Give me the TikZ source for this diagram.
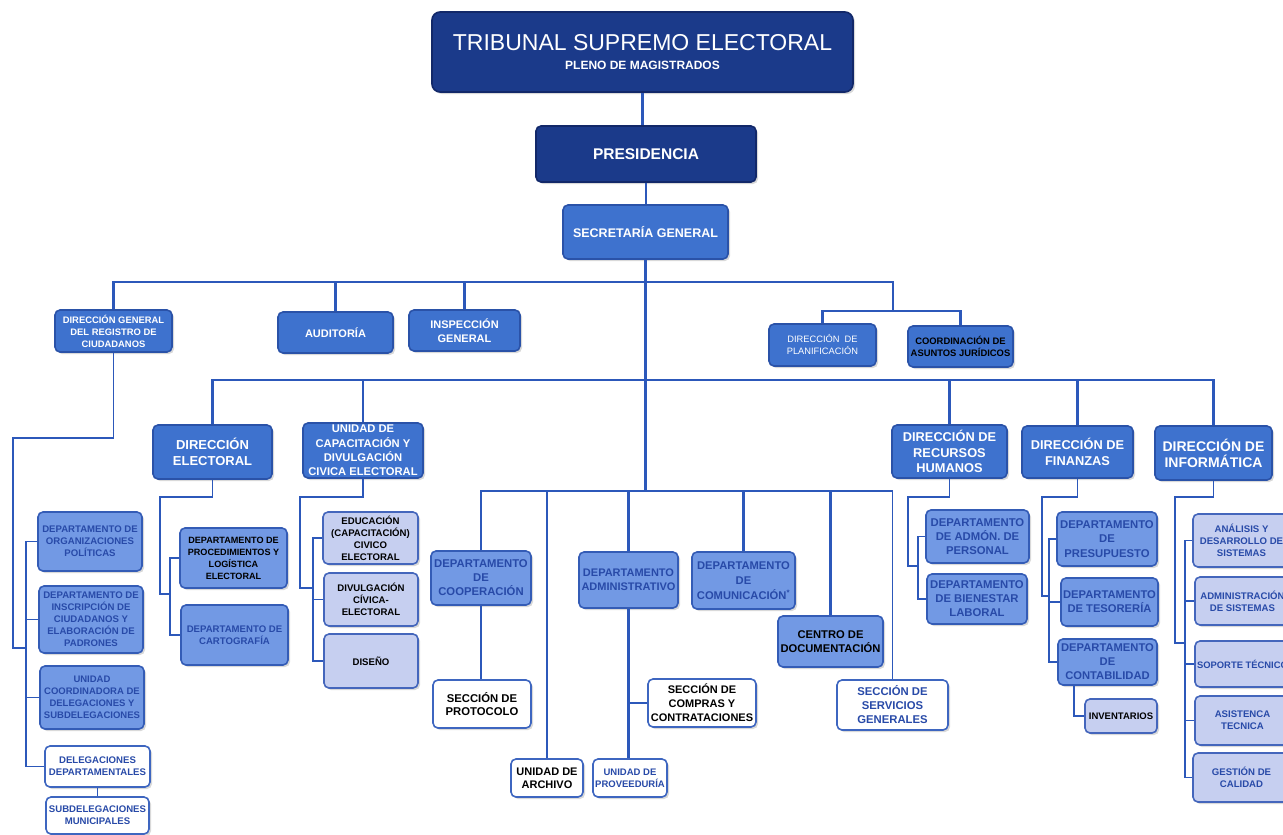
\documentclass[tikz,border=0pt]{standalone}
\usepackage{fontspec}
\setmainfont{Liberation Sans}
\usetikzlibrary{shadows}
\definecolor{navy}{RGB}{27,58,138}
\definecolor{navyd}{RGB}{18,40,105}
\definecolor{midb}{RGB}{62,114,206}
\definecolor{midd}{RGB}{42,82,168}
\definecolor{lightb}{RGB}{114,153,228}
\definecolor{lightd}{RGB}{52,92,182}
\definecolor{lav}{RGB}{198,207,240}
\definecolor{lavd}{RGB}{68,102,188}
\definecolor{wbd}{RGB}{62,102,192}
\definecolor{lineb}{RGB}{44,88,186}
\definecolor{txtb}{RGB}{40,74,168}
\newcommand\fbx[2]{\bfseries\fontsize{#1}{#2}\selectfont}
\newcommand\fmx[2]{\mdseries\fontsize{#1}{#2}\selectfont}
\newcommand\bx[7]{\node[#6, minimum width={(#4)-(#2)}, minimum height={(#5)-(#3)}] (#1) at ({((#2)+(#4))/2},{((#3)+(#5))/2}) {#7};}
\tikzset{
 base/.style={rounded corners=5pt, line width=1.6pt, align=center, inner sep=1pt,
   drop shadow={opacity=0.3,shadow xshift=2pt,shadow yshift=-2pt}},
 navybox/.style={base, fill=navy, draw=navyd, text=white},
 midbox/.style={base, fill=midb, draw=midd, text=white},
 lightbox/.style={base, fill=lightb, draw=lightd, text=txtb},
 lavbox/.style={base, fill=lav, draw=lavd, text=txtb},
 whitebox/.style={base, fill=white, draw=wbd, text=txtb},
 conn/.style={draw=lineb, line width=2.6pt},
 sub/.style={draw=lineb, line width=1.6pt},
}
\begin{document}
\begin{tikzpicture}[x=1pt,y=-1pt]
\useasboundingbox (0,0) rectangle (1283,835);
\clip (0,0) rectangle (1283,835);
% top
\bx{tse}{432}{12}{853}{92}{navybox, rounded corners=8pt, font=\fmx{23}{24}}{TRIBUNAL SUPREMO ELECTORAL\\[-5pt]{\fbx{12}{14}PLENO DE MAGISTRADOS}}
\bx{pres}{536}{126}{756}{182}{navybox, font=\fbx{15.5}{18}}{PRESIDENCIA}
\bx{sec}{563}{205}{728}{259}{midbox, font=\fbx{12.5}{15}}{SECRETARÍA GENERAL}
% level 1
\bx{dgrc}{55}{310}{172}{352}{midbox, font=\fbx{9.4}{12}}{DIRECCIÓN GENERAL\\DEL REGISTRO DE\\CIUDADANOS}
\bx{aud}{278}{312}{393}{353}{midbox, font=\fbx{11}{13}}{AUDITORÍA}
\bx{insp}{409}{310}{520}{351}{midbox, font=\fbx{11}{14}}{INSPECCIÓN\\GENERAL}
\bx{plan}{769}{324}{876}{366}{midbox, font=\fmx{9.3}{12}}{DIRECCIÓN\ \ DE\\PLANIFICACIÓN}
\bx{jur}{908}{326}{1013}{367}{midbox, text=black, font=\fbx{9.4}{12}}{COORDINACIÓN DE\\ASUNTOS JURÍDICOS}
% level 2
\bx{del}{153}{425}{272}{479}{midbox, font=\fbx{13}{16}}{DIRECCIÓN\\ELECTORAL}
\bx{ucap}{303}{423}{423}{478}{midbox, font=\fbx{11.2}{14.3}}{UNIDAD DE\\CAPACITACIÓN Y\\DIVULGACIÓN\\CIVICA ELECTORAL}
\bx{rrhh}{892}{425}{1007}{478}{midbox, font=\fbx{12.8}{15.5}}{DIRECCIÓN DE\\RECURSOS\\HUMANOS}
\bx{fin}{1022}{426}{1133}{478}{midbox, font=\fbx{12.8}{16}}{DIRECCIÓN DE\\FINANZAS}
\bx{inf}{1155}{426}{1272}{480}{midbox, font=\fbx{14}{16}}{DIRECCIÓN DE\\INFORMÁTICA}
% registro column
\bx{org}{38}{512}{142}{571}{lightbox, font=\fbx{9.6}{12}}{DEPARTAMENTO DE\\ORGANIZACIONES\\POLÍTICAS}
\bx{ins}{39}{586}{143}{653}{lightbox, font=\fbx{9.6}{12}}{DEPARTAMENTO DE\\INSCRIPCIÓN DE\\CIUDADANOS Y\\ELABORACIÓN DE\\PADRONES}
\bx{ucd}{40}{666}{144}{729}{lightbox, font=\fbx{9.5}{12}}{UNIDAD\\COORDINADORA DE\\DELEGACIONES Y\\SUBDELEGACIONES}
\bx{deleg}{45}{746}{150}{787}{whitebox, font=\fbx{9.6}{12}}{DELEGACIONES\\DEPARTAMENTALES}
\bx{subd}{46}{797}{149}{834}{whitebox, font=\fbx{9.6}{12}}{SUBDELEGACIONES\\MUNICIPALES}
% electoral
\bx{proc}{180}{528}{287}{588}{lightbox, text=black, font=\fbx{9.1}{12}}{DEPARTAMENTO DE\\PROCEDIMIENTOS Y\\LOGÍSTICA\\ELECTORAL}
\bx{cart}{181}{605}{288}{665}{lightbox, font=\fbx{9.6}{12}}{DEPARTAMENTO DE\\CARTOGRAFÍA}
% capacitacion
\bx{edu}{323}{512}{418}{564}{lavbox, text=black, font=\fbx{9.6}{12}}{EDUCACIÓN\\(CAPACITACIÓN)\\CIVICO\\ELECTORAL}
\bx{div}{324}{573}{418}{626}{lavbox, text=black, font=\fbx{9.6}{12}}{DIVULGACIÓN\\CÍVICA-\\ELECTORAL}
\bx{dis}{324}{634}{418}{688}{lavbox, text=black, font=\fbx{9.6}{12}}{DISEÑO}
% center
\bx{coop}{431}{551}{531}{605}{lightbox, font=\fbx{11.3}{14}}{DEPARTAMENTO\\DE\\COOPERACIÓN}
\bx{prot}{433}{680}{531}{728}{whitebox, text=black, font=\fbx{11.3}{13.5}}{SECCIÓN DE\\PROTOCOLO}
\bx{arch}{511}{759}{583}{797}{whitebox, text=black, font=\fbx{11}{13}}{UNIDAD DE\\ARCHIVO}
\bx{admin}{579}{552}{678}{608}{lightbox, font=\fbx{11}{14}}{DEPARTAMENTO\\ADMINISTRATIVO}
\bx{prov}{593}{759}{667}{797}{whitebox, font=\fbx{9.5}{12}}{UNIDAD DE\\PROVEEDURÍA}
\bx{compras}{648}{679}{756}{727}{whitebox, text=black, font=\fbx{11}{14}}{SECCIÓN DE\\COMPRAS Y\\CONTRATACIONES}
\bx{com}{692}{552}{795}{609}{lightbox, font=\fbx{11.2}{15}}{DEPARTAMENTO\\DE\\COMUNICACIÓN\textsuperscript{*}}
\bx{cdoc}{778}{616}{883}{667}{lightbox, text=black, font=\fbx{11.2}{14}}{CENTRO DE\\DOCUMENTACIÓN}
\bx{ssg}{837}{680}{948}{730}{whitebox, font=\fbx{11.3}{14}}{SECCIÓN DE\\SERVICIOS\\GENERALES}
% rrhh
\bx{adm}{926}{510}{1029}{563}{lightbox, font=\fbx{11.3}{14}}{DEPARTAMENTO\\DE ADMÓN. DE\\PERSONAL}
\bx{bien}{927}{574}{1027}{624}{lightbox, font=\fbx{11.3}{14}}{DEPARTAMENTO\\DE BIENESTAR\\LABORAL}
% finanzas
\bx{presu}{1057}{512}{1157}{566}{lightbox, font=\fbx{11.3}{14.5}}{DEPARTAMENTO\\DE\\PRESUPUESTO}
\bx{tes}{1061}{578}{1158}{626}{lightbox, font=\fbx{11.2}{14}}{DEPARTAMENTO\\DE TESORERÍA}
\bx{cont}{1058}{639}{1157}{685}{lightbox, font=\fbx{11.2}{14}}{DEPARTAMENTO\\DE\\CONTABILIDAD}
\bx{inv}{1085}{699}{1157}{733}{lavbox, text=black, font=\fbx{9.5}{12}}{INVENTARIOS}
% informatica
\bx{ana}{1193}{514}{1290}{567}{lavbox, font=\fbx{9.6}{12}}{ANÁLISIS Y\\DESARROLLO DE\\SISTEMAS}
\bx{adms}{1195}{577}{1290}{625}{lavbox, font=\fbx{9.6}{12}}{ADMINISTRACIÓN\\DE SISTEMAS}
\bx{sop}{1195}{641}{1290}{687}{lavbox, font=\fbx{9.4}{12}}{SOPORTE TÉCNICO}
\bx{asi}{1195}{696}{1290}{745}{lavbox, font=\fbx{9.6}{12}}{ASISTENCA\\TECNICA}
\bx{ges}{1193}{753}{1290}{802}{lavbox, font=\fbx{9.6}{12}}{GESTIÓN DE\\CALIDAD}
% coordinates
\coordinate (y1) at (0,282);
\coordinate (y2) at (0,380);
\coordinate (y3) at (0,491);
\coordinate (jr) at (893,282);
\coordinate (jm) at (893,311);
% main connectors
\draw[conn] (tse.south) -- (tse.south |- pres.north);
\draw[conn] (pres.south) -- (pres.south |- sec.north);
\draw[conn] (sec.south) -- (sec.south |- y3);
\draw[conn] (dgrc.north) |- (jr) -- (jm);
\draw[conn] (plan.north) |- (jm) -| (jur.north);
\draw[conn] (aud.north) -- (aud.north |- y1);
\draw[conn] (insp.north) -- (insp.north |- y1);
\draw[conn] (del.north) |- (inf.north |- y2) -- (inf.north);
\draw[conn] (ucap.north) -- (ucap.north |- y2);
\draw[conn] (rrhh.north) -- (rrhh.north |- y2);
\draw[conn] (fin.north) -- (fin.north |- y2);
\draw[conn] (coop.north) |- (ssg.north |- y3);
\draw[sub] (ssg.north) -- (ssg.north |- y3);
\draw[sub] (arch.north) -- (arch.north |- y3);
\draw[conn] (admin.north) -- (admin.north |- y3);
\draw[conn] (com.north) -- (com.north |- y3);
\draw[conn] (cdoc.north) -- (cdoc.north |- y3);
\draw[conn, line width=2.1pt] (coop.south) -- (coop.south |- prot.north);
\draw[conn, line width=2.1pt] (admin.south) -- (admin.south |- prov.north);
\draw[sub] (compras.west) -- (compras.west -| admin.south);
% registro subtree
\coordinate (g1) at (13,438); \coordinate (g2) at (13,648); \coordinate (g3) at (26,648); \coordinate (gx) at (26,0);
\draw[sub] (dgrc.south) |- (g1) -- (g2) -- (g3);
\draw[sub] (org.west) -- (org.west -| gx) -- (deleg.west -| gx) -- (deleg.west);
\draw[sub] (ins.west) -- (ins.west -| gx);
\draw[sub] (ucd.west) -- (ucd.west -| gx);
\draw[sub] (deleg.south) -- (subd.north);
% electoral subtree
\coordinate (e1) at (160,497); \coordinate (e2) at (160,594); \coordinate (e3) at (170,594); \coordinate (ex) at (170,0);
\draw[sub] (del.south) |- (e1) -- (e2) -- (e3);
\draw[sub] (proc.west) -- (proc.west -| ex) -- (cart.west -| ex) -- (cart.west);
% capacitacion subtree
\coordinate (u1) at (300,497); \coordinate (u2) at (300,588); \coordinate (u3) at (313,588); \coordinate (ux) at (313,0);
\draw[sub] (ucap.south) |- (u1) -- (u2) -- (u3);
\draw[sub] (edu.west) -- (edu.west -| ux) -- (dis.west -| ux) -- (dis.west);
\draw[sub] (div.west) -- (div.west -| ux);
% rrhh subtree
\coordinate (r1) at (908,497); \coordinate (r2) at (908,566); \coordinate (r3) at (918,566); \coordinate (rx) at (918,0);
\draw[sub] (rrhh.south) |- (r1) -- (r2) -- (r3);
\draw[sub] (adm.west) -- (adm.west -| rx) -- (bien.west -| rx) -- (bien.west);
% finanzas subtree
\coordinate (f1) at (1042,497); \coordinate (f2) at (1042,596); \coordinate (f3) at (1049,596); \coordinate (fx) at (1049,0);
\draw[sub] (fin.south) |- (f1) -- (f2) -- (f3);
\draw[sub] (presu.west) -- (presu.west -| fx) -- (cont.west -| fx) -- (cont.west);
\draw[sub] (tes.west) -- (tes.west -| fx);
\coordinate (vx) at (1074,0);
\draw[sub] (cont.south -| vx) |- (inv.west);
% informatica subtree
\coordinate (i1) at (1175,497); \coordinate (i2) at (1175,643); \coordinate (i3) at (1185,643); \coordinate (nx) at (1185,0);
\draw[sub] (inf.south) |- (i1) -- (i2) -- (i3);
\draw[sub] (ana.west) -- (ana.west -| nx) -- (ges.west -| nx) -- (ges.west);
\draw[sub] (adms.west) -- (adms.west -| nx);
\draw[sub] (sop.west) -- (sop.west -| nx);
\draw[sub] (asi.west) -- (asi.west -| nx);
\end{tikzpicture}
\end{document}
